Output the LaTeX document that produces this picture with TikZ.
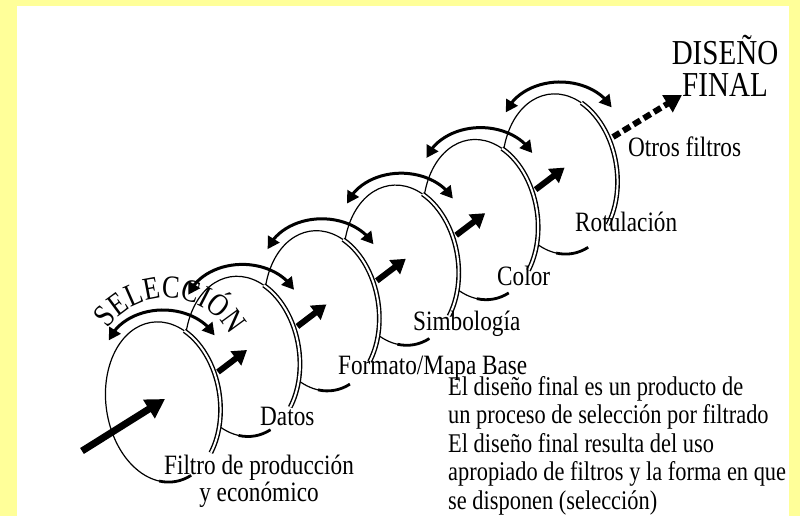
\documentclass[tikz,border=0pt]{standalone}
\usepackage{fontspec}
\setmainfont{Liberation Serif}[FakeStretch=0.83]
\usetikzlibrary{arrows.meta,bending,calc}
\definecolor{bgyellow}{HTML}{FFFF99}
\newcommand\lblfont{\fontsize{28pt}{30pt}\selectfont}
\newcommand\parfont{\fontsize{27pt}{28pt}\selectfont}
\newcommand\ttlfont{\fontsize{35pt}{36pt}\selectfont}
\newcommand\selfont{\fontsize{32pt}{32pt}\selectfont}
\newcommand\filterdisc[1]{%
  \begin{scope}[shift={(#1)}, rotate=8]
    \fill[white] (0,0) ellipse[x radius=57, y radius=80.5];
    \draw[discline] (57:57 and 80.5) arc[start angle=57, end angle=288, x radius=57, y radius=80.5];
    \draw[curl] (255:57 and 80.5) arc[start angle=255, end angle=288, x radius=57, y radius=80.5];
    \draw[rimline] (57:57 and 80.5) arc[start angle=57, end angle=-45, x radius=57, y radius=80.5];
  \end{scope}
  \draw[swing, shift={($(#1)+(0,48)$)}] (162:57 and 44) arc[start angle=162, end angle=25, x radius=57, y radius=44];
}
\begin{document}
\begin{tikzpicture}[x=1pt,y=1pt,
  discline/.style={line width=1.2pt},
  rimline/.style={line width=1.4pt, double distance=2pt, double=white},
  curl/.style={line width=2.8pt},
  swing/.style={line width=3pt, {Triangle[length=12pt,width=13pt]}-{Triangle[length=12pt,width=13pt]}},
  fwd/.style={line width=6pt, -{Triangle[length=14pt,width=17pt]}},
  bigarrow/.style={line width=7pt, -{Triangle[length=19pt,width=21pt]}},
  outarrow/.style={line width=6pt, dash pattern=on 8pt off 4pt, -{Triangle[length=17pt,width=19pt]}},
  lbl/.style={font=\lblfont, inner sep=0pt, anchor=base west},
  para/.style={font=\parfont, inner sep=0pt, anchor=base west},
  ttl/.style={font=\ttlfont, inner sep=0pt, anchor=base},
  selch/.style={font=\selfont, inner sep=0pt, anchor=base}]
\useasboundingbox (0,0) rectangle (800,516);
\fill[bgyellow] (0,0) rectangle (800,516);
\fill[white] (17,0) rectangle (789,510);

\coordinate (d1) at (163,114);
\coordinate (d2) at (242.4,159.6);
\coordinate (d3) at (321.8,205.2);
\coordinate (d4) at (401.2,250.8);
\coordinate (d5) at (480.6,296.4);
\coordinate (d6) at (560,342);
\coordinate (src) at (82,65);
\coordinate (selc) at (167,146);

\filterdisc{d6}
\draw[outarrow] ($(d6)+(53,37)$) -- ($(d6)+(122,79)$);
\filterdisc{d5}
\draw[fwd] ($(d5)+(55,30)$) -- ($(d6)+(4.6,6.4)$);
\filterdisc{d4}
\draw[fwd] ($(d4)+(55,30)$) -- ($(d5)+(4.6,6.4)$);
\filterdisc{d3}
\draw[fwd] ($(d3)+(55,30)$) -- ($(d4)+(4.6,6.4)$);
\filterdisc{d2}
\draw[fwd] ($(d2)+(55,30)$) -- ($(d3)+(4.6,6.4)$);
\filterdisc{d1}
\draw[fwd] ($(d1)+(55,30)$) -- ($(d2)+(4.6,6.4)$);
\draw[bigarrow] (src) -- ($(d1)+(2,3)$);

\foreach \ch/\ang [count=\i] in {S/138.9, E/126.6, L/113.7, E/100.7, C/87.2, C/73.1, I/62.6, Ó/51.4, N/36.1}
  \node[selch, rotate=\ang-90] (sel\i) at ($(selc)+(\ang:72)$) {\ch};

\node[ttl] (t1) at (725,451) {DISEÑO};
\node[ttl] (t2) at (725,419) {FINAL};
\node[lbl] (l6) at (628,359) {Otros filtros};
\node[lbl] (l5) at (575,284) {Rotulación};
\node[lbl] (l4) at (497,230) {Color};
\node[lbl] (l3) at (413,185) {Simbología};
\node[lbl] (l2) at (338,141) {Formato/Mapa Base};
\node[lbl] (l1) at (260,90) {Datos};
\node[lbl, anchor=base] (l0a) at (259,41) {Filtro de producción};
\node[lbl, anchor=base] (l0b) at (259,14) {y económico};
\node[para] (p1) at (448,120.5) {El diseño final es un producto de};
\node[para] (p2) at (448,92.1) {un proceso de selección por filtrado};
\node[para] (p3) at (448,63.7) {El diseño final resulta del uso};
\node[para] (p4) at (448,35.3) {apropiado de filtros y la forma en que};
\node[para] (p5) at (448,6.9) {se disponen (selección)};
\end{tikzpicture}
\end{document}
